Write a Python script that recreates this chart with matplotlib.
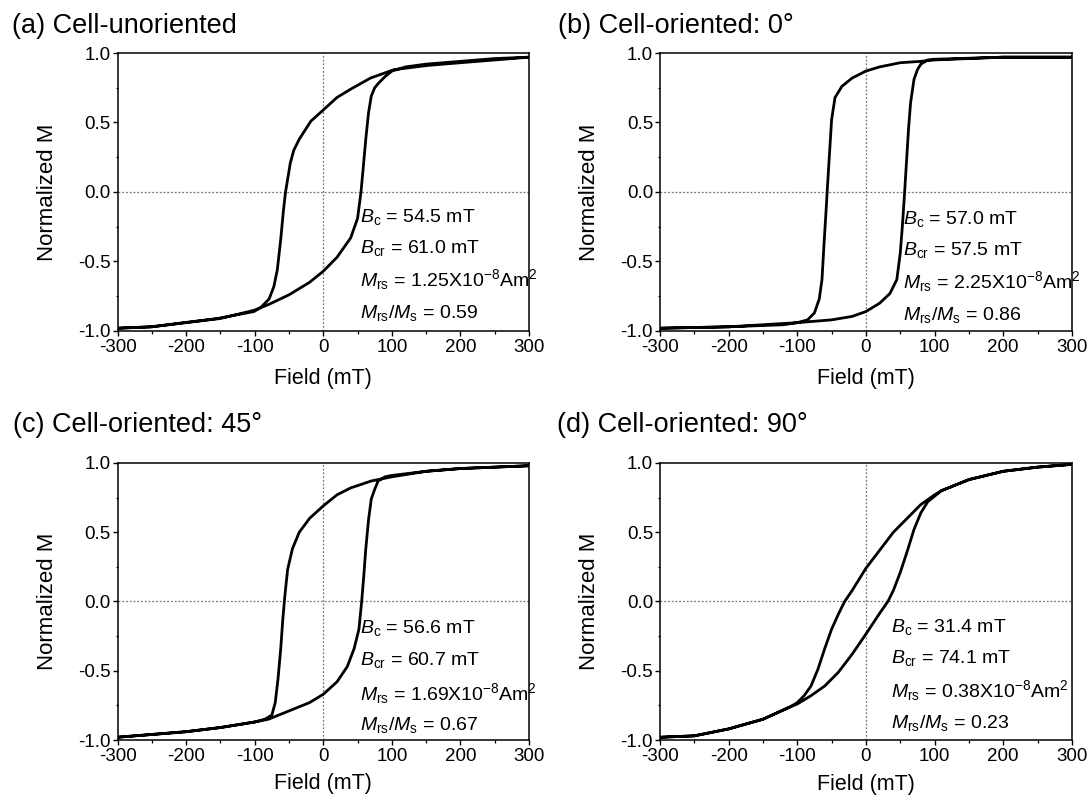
import matplotlib
matplotlib.use("Agg")
import matplotlib.pyplot as plt
from matplotlib.ticker import MultipleLocator, FormatStrFormatter

plt.rcParams["font.family"] = ["Liberation Sans", "DejaVu Sans"]
plt.rcParams["mathtext.fontset"] = "custom"
plt.rcParams["mathtext.rm"] = "Liberation Sans"
plt.rcParams["mathtext.it"] = "Liberation Sans:italic"
plt.rcParams["axes.unicode_minus"] = False

# --- datos (campo en mT, M normalizada) ---
# rama superior: campo decreciente de +300 a -300
a_up_h = [300, 200, 151, 103, 69, 40, 20, 0, -18, -35, -43, -48, -52, -55, -58, -62,
          -67, -72, -79, -91, -101, -154, -203, -251, -300]
a_up_m = [0.97, 0.93, 0.91, 0.88, 0.82, 0.74, 0.68, 0.59, 0.51, 0.38, 0.30, 0.21, 0.09,
          0.0, -0.13, -0.34, -0.56, -0.68, -0.77, -0.83, -0.86, -0.91, -0.94, -0.97, -0.98]
# rama inferior: campo creciente de -300 a +300
a_lo_h = [-300, -250, -200, -150, -100, -80, -50, -20, 0, 20, 40, 50, 55, 58, 62, 66,
          70, 75, 80, 90, 100, 120, 150, 200, 250, 300]
a_lo_m = [-0.98, -0.97, -0.94, -0.91, -0.85, -0.81, -0.74, -0.65, -0.57, -0.47, -0.33,
          -0.19, 0.0, 0.16, 0.38, 0.57, 0.69, 0.75, 0.78, 0.83, 0.87, 0.90, 0.92, 0.94,
          0.96, 0.97]

b_up_h = [300, 200, 100, 80, 50, 20, 0, -20, -35, -45, -50, -53, -56, -58, -61, -64,
          -68, -75, -85, -100, -150, -200, -300]
b_up_m = [0.97, 0.97, 0.95, 0.94, 0.93, 0.90, 0.87, 0.82, 0.76, 0.68, 0.52, 0.28, 0.04,
          -0.13, -0.37, -0.63, -0.77, -0.87, -0.92, -0.94, -0.955, -0.97, -0.98]
b_lo_h = [-300, -200, -120, -100, -50, -20, 0, 20, 35, 45, 50, 53, 56, 59, 62, 65, 70,
          75, 80, 90, 100, 200, 300]
b_lo_m = [-0.98, -0.97, -0.955, -0.94, -0.92, -0.895, -0.86, -0.80, -0.73, -0.63, -0.44,
          -0.25, -0.03, 0.21, 0.45, 0.64, 0.81, 0.88, 0.92, 0.95, 0.955, 0.97, 0.97]

c_up_h = [300, 250, 200, 150, 100, 70, 40, 20, 0, -20, -35, -45, -52, -56, -59, -62,
          -66, -70, -75, -85, -100, -150, -200, -250, -300]
c_up_m = [0.98, 0.97, 0.96, 0.94, 0.90, 0.87, 0.82, 0.77, 0.69, 0.60, 0.50, 0.38, 0.23,
          0.04, -0.13, -0.34, -0.56, -0.73, -0.82, -0.85, -0.87, -0.91, -0.94, -0.96, -0.98]
c_lo_h = [-300, -200, -150, -100, -80, -50, -20, 0, 20, 35, 45, 52, 56, 59, 62, 66, 70,
          75, 80, 90, 100, 150, 200, 300]
c_lo_m = [-0.98, -0.94, -0.91, -0.87, -0.85, -0.79, -0.73, -0.67, -0.58, -0.47, -0.34,
          -0.20, 0.0, 0.18, 0.38, 0.59, 0.74, 0.81, 0.87, 0.90, 0.91, 0.94, 0.96, 0.98]

d_up_h = [300, 250, 200, 150, 110, 100, 80, 60, 40, 20, 0, -10, -20, -31, -40, -50, -60,
          -70, -80, -90, -100, -110, -150, -200, -250, -300]
d_up_m = [0.99, 0.97, 0.94, 0.88, 0.80, 0.77, 0.70, 0.60, 0.50, 0.37, 0.24, 0.16, 0.08,
          0.0, -0.09, -0.20, -0.34, -0.49, -0.61, -0.68, -0.73, -0.76, -0.85, -0.92,
          -0.97, -0.98]
d_lo_h = [-300, -250, -200, -150, -110, -100, -80, -60, -40, -20, 0, 10, 20, 32, 40, 50,
          60, 70, 80, 90, 100, 110, 150, 200, 250, 300]
d_lo_m = [-0.98, -0.97, -0.92, -0.85, -0.76, -0.74, -0.68, -0.61, -0.51, -0.38, -0.235,
          -0.16, -0.085, 0.0, 0.08, 0.21, 0.36, 0.52, 0.64, 0.72, 0.76, 0.80, 0.88, 0.94,
          0.97, 0.99]

titles = ["(a) Cell-unoriented", "(b) Cell-oriented: 0\u00b0",
          "(c) Cell-oriented: 45\u00b0", "(d) Cell-oriented: 90\u00b0"]
bc = ["54.5", "57.0", "56.6", "31.4"]
bcr = ["61.0", "57.5", "60.7", "74.1"]
mrs = ["1.25", "2.25", "1.69", "0.38"]
ratio = ["0.59", "0.86", "0.67", "0.23"]

loops = [(a_up_h, a_up_m, a_lo_h, a_lo_m),
         (b_up_h, b_up_m, b_lo_h, b_lo_m),
         (c_up_h, c_up_m, c_lo_h, c_lo_m),
         (d_up_h, d_up_m, d_lo_h, d_lo_m)]

# posiciones de los ejes (fraccion de figura)
rects = [[0.1077, 0.5847, 0.3772, 0.3488],
         [0.6049, 0.5847, 0.3776, 0.3488],
         [0.1077, 0.0715, 0.3772, 0.3476],
         [0.6049, 0.0715, 0.3776, 0.3476]]
title_pos = [(12, 33), (558, 33), (13, 432), (557, 432)]
text_x = [54, 54, 53, 37]
text_y = [(-0.214, -0.441, -0.676, -0.906),
          (-0.23, -0.455, -0.69, -0.92),
          (-0.231, -0.459, -0.712, -0.928),
          (-0.219, -0.447, -0.688, -0.916)]
xlab_y = [-0.172, -0.172, -0.158, -0.160]

W, H = 1091, 797
fig = plt.figure(figsize=(W / 100, H / 100), dpi=100)

for i in range(4):
    ax = fig.add_axes(rects[i])
    up_h, up_m, lo_h, lo_m = loops[i]
    ax.axhline(0, color="#777777", lw=0.9, ls=(0, (1.5, 1.5)), zorder=1)
    ax.axvline(0, color="#777777", lw=0.9, ls=(0, (1.5, 1.5)), zorder=1)
    ax.plot(up_h + lo_h, up_m + lo_m, color="black", lw=2.0,
            solid_joinstyle="round", zorder=3)

    ax.set_xlim(-300, 300)
    ax.set_ylim(-1.0, 1.0)
    ax.xaxis.set_major_locator(MultipleLocator(100))
    ax.xaxis.set_minor_locator(MultipleLocator(50))
    ax.yaxis.set_major_locator(MultipleLocator(0.5))
    ax.yaxis.set_minor_locator(MultipleLocator(0.25))
    ax.yaxis.set_major_formatter(FormatStrFormatter("%.1f"))
    ax.tick_params(which="major", direction="out", length=3.5, width=1.0,
                   labelsize=13.5, pad=1.5)
    ax.tick_params(which="minor", direction="out", length=1.8, width=0.9)
    ax.tick_params(axis="x", which="major", pad=2.0)
    for sp in ax.spines.values():
        sp.set_linewidth(1.1)

    ax.set_xlabel("Field (mT)", fontsize=15.5, va="center")
    ax.xaxis.set_label_coords(0.5, xlab_y[i])
    ax.set_ylabel("Normalized M", fontsize=16, va="center")
    ax.yaxis.set_label_coords(-0.171, 0.5)

    lines = [r"$B_{\rm c}$ = %s mT" % bc[i],
             r"$B_{\rm cr}$ = %s mT" % bcr[i],
             r"$M_{\rm rs}$ = %sX10$^{-8}$Am$^2$" % mrs[i],
             r"$M_{\rm rs}$/$M_{\rm s}$ = %s" % ratio[i]]
    for txt, yy in zip(lines, text_y[i]):
        ax.text(text_x[i], yy, txt, fontsize=14, ha="left", va="baseline", zorder=4)

    tx, ty = title_pos[i]
    fig.text(tx / W, 1 - ty / H, titles[i], fontsize=19.5, ha="left", va="baseline")

fig.savefig("out.png", dpi=100)
